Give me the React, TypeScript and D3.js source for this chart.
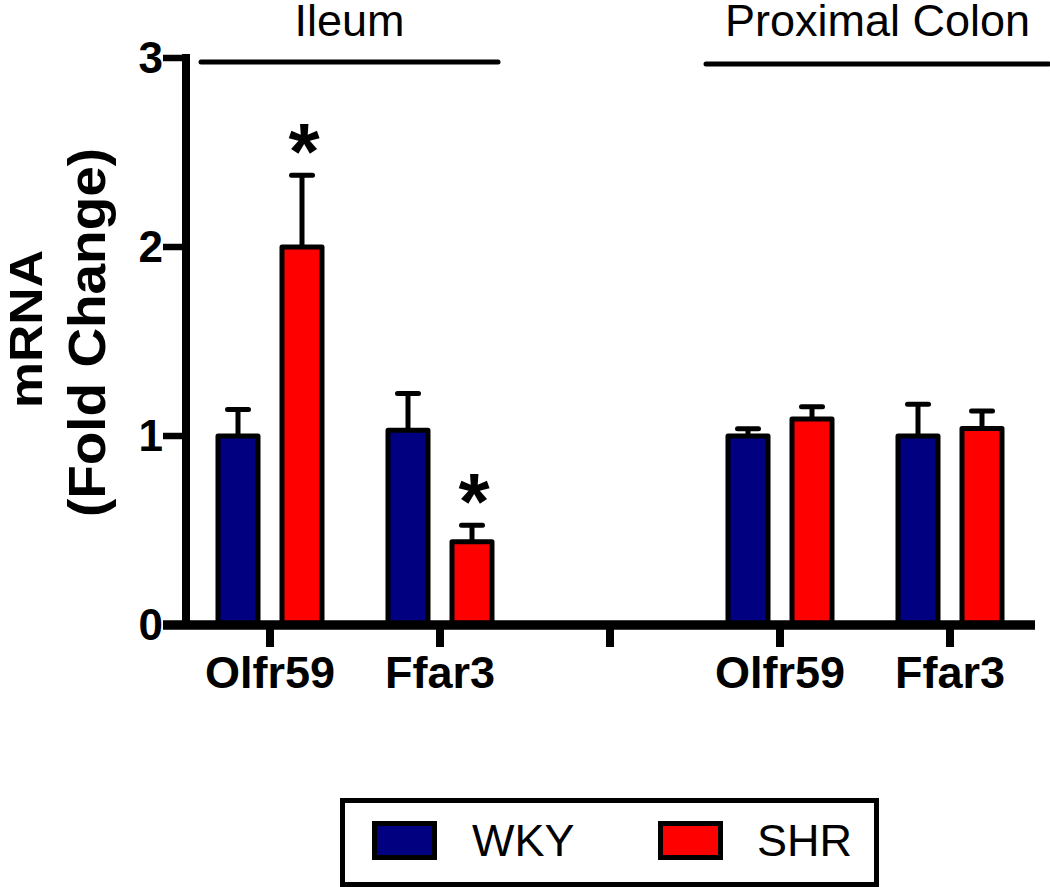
import React from "react";
import * as d3 from "d3";

const slots = ["Ileum Olfr59", "Ileum Ffar3", "gap", "Proximal Colon Olfr59", "Proximal Colon Ffar3"];
const tickLabels = ["Olfr59", "Ffar3", "", "Olfr59", "Ffar3"];
const barSlots = ["Ileum Olfr59", "Ileum Ffar3", "Proximal Colon Olfr59", "Proximal Colon Ffar3"];
const groups = ["WKY", "SHR"];
const wkyMean = [1.0, 1.03, 1.0, 1.0];
const wkySem = [0.14, 0.195, 0.038, 0.168];
const shrMean = [2.0, 0.44, 1.09, 1.04];
const shrSem = [0.38, 0.088, 0.065, 0.092];
const shrSignificant = [true, true, false, false];
const yTicks = [0, 1, 2, 3];
const regionLabels = ["Ileum", "Proximal Colon"];
const colors = { WKY: "#000080", SHR: "#FF0000" };

const FONT = "'Liberation Sans', Arial, Helvetica, sans-serif";

export default function App() {
  const x = d3.scaleBand<string>().domain(slots).range([185, 1035]).padding(0);
  const x1 = d3.scaleBand<string>().domain(groups).range([33, 137]).paddingInner(0.375);
  const y = d3.scaleLinear().domain([0, 3]).range([625, 58]);
  const bw = x1.bandwidth();

  const bars: { slot: string; g: string; mean: number; sem: number; sig: boolean }[] = [];
  barSlots.forEach((s, i) => {
    bars.push({ slot: s, g: "WKY", mean: wkyMean[i], sem: wkySem[i], sig: false });
    bars.push({ slot: s, g: "SHR", mean: shrMean[i], sem: shrSem[i], sig: shrSignificant[i] });
  });

  const ileumStart = (x(slots[0]) as number) + 16;
  const ileumEnd = (x(slots[1]) as number) + 143;
  const colonStart = (x(slots[3]) as number) + 11;
  const colonEnd = (x(slots[4]) as number) + x.bandwidth() + 14;
  const groupLines = [
    { label: regionLabels[0], x0: ileumStart, x1: ileumEnd, y: 62 },
    { label: regionLabels[1], x0: colonStart, x1: colonEnd, y: 64 },
  ];

  const legendItems = [
    { g: "WKY", sx: 374.5, tx: 472 },
    { g: "SHR", sx: 660.5, tx: 757 },
  ];

  return (
    <svg
      width={1050}
      height={887}
      style={{ position: "absolute", left: 0, top: 0, background: "#fff" }}
      fontFamily={FONT}
    >
      <rect x={0} y={0} width={1050} height={887} fill="#fff" />

      {/* group lines and labels */}
      {groupLines.map((gl) => (
        <g key={gl.label}>
          <line x1={gl.x0} x2={gl.x1} y1={gl.y} y2={gl.y} stroke="#000" strokeWidth={5} strokeLinecap="round" />
          <text x={(gl.x0 + gl.x1) / 2} y={36} textAnchor="middle" fontSize={45}>
            {gl.label}
          </text>
        </g>
      ))}

      {/* bars */}
      {bars.map((b, i) => {
        const cx = (x(b.slot) as number) + (x1(b.g) as number) + bw / 2;
        const top = y(b.mean);
        const cap = y(b.mean + b.sem);
        return (
          <g key={i}>
            <line x1={cx} x2={cx} y1={top} y2={cap} stroke="#000" strokeWidth={5} />
            <line x1={cx - 10.5} x2={cx + 10.5} y1={cap} y2={cap} stroke="#000" strokeWidth={5} strokeLinecap="round" />
            <rect
              x={cx - bw / 2}
              y={top}
              width={bw}
              height={y(0) - top}
              fill={colors[b.g as "WKY" | "SHR"]}
              stroke="#000"
              strokeWidth={5}
              strokeLinejoin="round"
            />
            {b.sig && (
              <text x={cx + 2} y={cap + 4} textAnchor="middle" fontSize={80} fontWeight="bold">
                *
              </text>
            )}
          </g>
        );
      })}

      {/* y axis */}
      <line x1={186} x2={186} y1={y(3) - 4} y2={y(0) + 4} stroke="#000" strokeWidth={8} />
      {yTicks.map((t) => (
        <g key={t}>
          <line x1={163} x2={186} y1={y(t)} y2={y(t)} stroke="#000" strokeWidth={6.5} />
          <text x={163} y={y(t) + 15} textAnchor="end" fontSize={44} fontWeight="bold">
            {t}
          </text>
        </g>
      ))}

      {/* x axis */}
      <line x1={163} x2={1035} y1={y(0)} y2={y(0)} stroke="#000" strokeWidth={9.5} />
      {slots.map((s, i) => {
        const cx = (x(s) as number) + x.bandwidth() / 2;
        return (
          <g key={s}>
            <line x1={cx} x2={cx} y1={y(0)} y2={647} stroke="#000" strokeWidth={8} />
            {tickLabels[i] && (
              <text x={cx} y={688} textAnchor="middle" fontSize={45} fontWeight="bold">
                {tickLabels[i]}
              </text>
            )}
          </g>
        );
      })}

      {/* y axis title */}
      <text
        transform="translate(42,329) rotate(-90)"
        textAnchor="middle"
        fontSize={46}
        fontWeight="bold"
        textLength={158}
        lengthAdjust="spacingAndGlyphs"
      >
        mRNA
      </text>
      <text
        transform="translate(105,332.5) rotate(-90)"
        textAnchor="middle"
        fontSize={52}
        fontWeight="bold"
        textLength={369}
        lengthAdjust="spacingAndGlyphs"
      >
        (Fold Change)
      </text>

      {/* legend */}
      <rect x={342.5} y={800.5} width={534} height={84} fill="none" stroke="#000" strokeWidth={5} />
      {legendItems.map((li) => (
        <g key={li.g}>
          <rect x={li.sx} y={823.5} width={60} height={34} fill={colors[li.g as "WKY" | "SHR"]} stroke="#000" strokeWidth={5} />
          <text x={li.tx} y={855.5} fontSize={45}>
            {li.g}
          </text>
        </g>
      ))}
    </svg>
  );
}
